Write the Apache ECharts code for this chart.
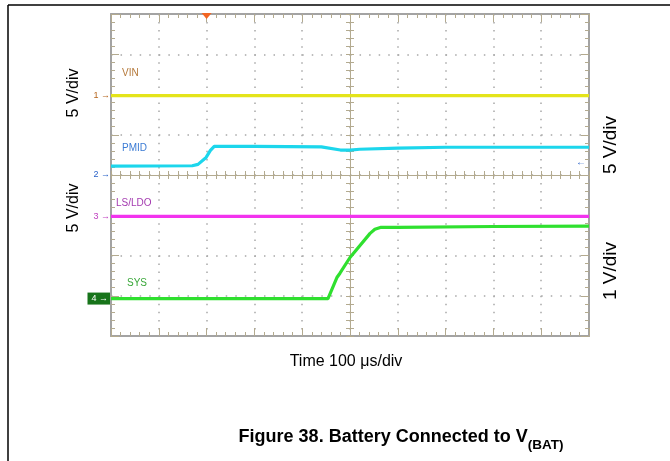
<!DOCTYPE html>
<html>
<head>
<meta charset="utf-8">
<script src="https://cdn.jsdelivr.net/npm/echarts@6/dist/echarts.min.js"></script>
<style>
  html, body { margin: 0; padding: 0; background: #fff; }
  #graph { width: 670px; height: 461px; }
</style>
</head>
<body>
<div id="graph"></div>
<script>
// time in us from the left edge of the screen (10 div x 100 us)
// volts are relative to each channel's ground marker
const vinTime = [0, 250, 500, 750, 1000];
const vinVolts = [0, 0, 0, 0, 0];
const pmidTime = [0, 170, 182, 199, 208, 216, 300, 440, 480, 500, 520, 600, 700, 1000];
const pmidVolts = [1.1, 1.15, 1.32, 2.18, 3.05, 3.55, 3.55, 3.5, 3.1, 3.1, 3.2, 3.35, 3.45, 3.45];
const ldoTime = [0, 250, 500, 750, 1000];
const ldoVolts = [0, 0, 0, 0, 0];
const sysTime = [0, 200, 454, 473, 479, 500, 542, 552, 565, 600, 800, 1000];
const sysVolts = [0, 0, 0, 0.53, 0.63, 1.02, 1.62, 1.72, 1.77, 1.77, 1.79, 1.8];

const channelNames = ['VIN', 'PMID', 'LS/LDO', 'SYS'];
const channelTags = ['1', '2', '3', '4'];
const channelOffsetDiv = [5.97, 4.0, 2.97, 0.93];   // ground marker, divisions from bottom
const channelVoltsPerDiv = [5, 5, 5, 1];
const triggerTime = 200;
const pmidRightArrowDiv = 4.32;

const traceColors = ['#e4e41a', '#1cd6ec', '#f233ee', '#2fe02f'];
const nameColors = ['#b5793a', '#3b7bd4', '#a43bb0', '#3aa83a'];
const tagColors = ['#b5651d', '#2a62c8', '#c040c0', '#ffffff'];

const frameColor = '#a3a3a3';
const tickColor = '#b3aa8f';
const dotColor = '#a8a8a8';
const font = '"Liberation Sans", Arial, sans-serif';

const times = [vinTime, pmidTime, ldoTime, sysTime];
const volts = [vinVolts, pmidVolts, ldoVolts, sysVolts];

function frameAxis(pos, extra) {
  return Object.assign({
    type: 'value', position: pos,
    axisLine: {show: true, onZero: false, lineStyle: {color: frameColor, width: 2}},
    axisTick: {show: true, inside: true, length: 8, lineStyle: {color: tickColor}},
    minorTick: {show: true, splitNumber: 5, length: 4, lineStyle: {color: tickColor}},
    axisLabel: {show: false},
    splitLine: {show: false}
  }, extra);
}
function centerAxis(pos, offset, inside, extra) {
  return Object.assign({
    type: 'value', position: pos, offset: offset,
    axisLine: {show: !inside, onZero: false, lineStyle: {color: tickColor, width: 1}},
    axisTick: {show: true, inside: inside, length: 4, lineStyle: {color: tickColor}},
    minorTick: {show: true, splitNumber: 5, length: 4, lineStyle: {color: tickColor}},
    axisLabel: {show: false},
    splitLine: {show: false}
  }, extra);
}

const xr = {min: 0, max: 1000, interval: 100};
const yr = {min: 0, max: 8, interval: 1};

var myChart = echarts.init(document.getElementById('graph'));
myChart.setOption({
  animation: false,
  backgroundColor: '#ffffff',
  grid: {left: 111, top: 14, width: 478, height: 322},
  xAxis: [
    frameAxis('bottom', Object.assign({
      splitLine: {show: true, lineStyle: {color: dotColor, width: 1.5, type: [1.5, 6.55]}}
    }, xr)),
    frameAxis('top', Object.assign({}, xr)),
    centerAxis('bottom', -161, false, Object.assign({}, xr)),
    centerAxis('bottom', -161, true, Object.assign({}, xr))
  ],
  yAxis: [
    frameAxis('left', Object.assign({
      splitLine: {show: true, lineStyle: {color: dotColor, width: 1.5, type: [1.5, 8.06]}}
    }, yr)),
    frameAxis('right', Object.assign({}, yr)),
    centerAxis('left', -239, false, Object.assign({}, yr)),
    centerAxis('left', -239, true, Object.assign({}, yr))
  ],
  series: channelNames.map(function (name, c) {
    return {
      name: name,
      type: 'line',
      xAxisIndex: 0,
      yAxisIndex: 0,
      symbol: 'none',
      z: 5 + c,
      lineStyle: {color: traceColors[c], width: 3.2},
      data: times[c].map(function (t, i) {
        return [t, channelOffsetDiv[c] + volts[c][i] / channelVoltsPerDiv[c]];
      })
    };
  })
});

function px(x, y) {
  return myChart.convertToPixel({xAxisIndex: 0, yAxisIndex: 0}, [x, y]);
}

function vtext(x, y, text, size) {
  return {type: 'text', x: x, y: y, rotation: Math.PI / 2,
    style: {text: text, font: size + 'px ' + font, fill: '#000', align: 'center', verticalAlign: 'middle'}};
}

const graphics = [
  {type: 'line', shape: {x1: 8, y1: 5, x2: 670, y2: 5}, style: {stroke: '#000', lineWidth: 1.5}},
  {type: 'line', shape: {x1: 8, y1: 5, x2: 8, y2: 461}, style: {stroke: '#000', lineWidth: 1.5}},
  vtext(74, 93, '5 V/div', 16),
  vtext(74, 208, '5 V/div', 16),
  vtext(611, 145, '5 V/div', 19),
  vtext(611, 271, '1 V/div', 19),
  {type: 'text', x: 346, y: 362,
    style: {text: 'Time 100 \u03bcs/div', font: '16px ' + font, fill: '#000', align: 'center', verticalAlign: 'middle'}},
  {type: 'text', x: 401, y: 437,
    style: {
      text: '{m|Figure 38. Battery Connected to V}{s|(BAT)}',
      align: 'center', verticalAlign: 'middle',
      rich: {
        m: {fontFamily: font, fontWeight: 'bold', fontSize: 18, fill: '#000', lineHeight: 24, verticalAlign: 'middle'},
        s: {fontFamily: font, fontWeight: 'bold', fontSize: 13.5, fill: '#000', lineHeight: 30, verticalAlign: 'bottom'}
      }
    }}
];

// trace names inside the screen
const namePos = [[122, 73], [122, 148], [116, 203], [127, 283]];
channelNames.forEach(function (name, c) {
  graphics.push({type: 'text', x: namePos[c][0], y: namePos[c][1],
    style: {text: name, font: '10px ' + font, fill: nameColors[c], align: 'left', verticalAlign: 'middle'}});
});

// channel ground markers on the left edge
channelTags.forEach(function (tag, c) {
  const p = px(0, channelOffsetDiv[c]);
  const st = {text: tag + ' \u2192', font: '9px ' + font, fill: tagColors[c], align: 'right', verticalAlign: 'middle'};
  if (c === 3) {
    st.backgroundColor = '#17741a';
    st.padding = [2, 2, 1, 4];
  }
  graphics.push({type: 'text', x: p[0] - 1, y: p[1], z: 20, style: st});
});

// trigger marker on top and the pmid arrow on the right
const tp = px(triggerTime, 8);
graphics.push({type: 'polygon', z: 20,
  shape: {points: [[tp[0] - 5, tp[1] - 1], [tp[0] + 5, tp[1] - 1], [tp[0], tp[1] + 5]]},
  style: {fill: '#f26522'}});
const ap = px(1000, pmidRightArrowDiv);
graphics.push({type: 'text', x: ap[0] - 3, y: ap[1], z: 20,
  style: {text: '\u2190', font: '10px ' + font, fill: '#2a62c8', align: 'right', verticalAlign: 'middle'}});

myChart.setOption({graphic: graphics});
</script>
</body>
</html>
